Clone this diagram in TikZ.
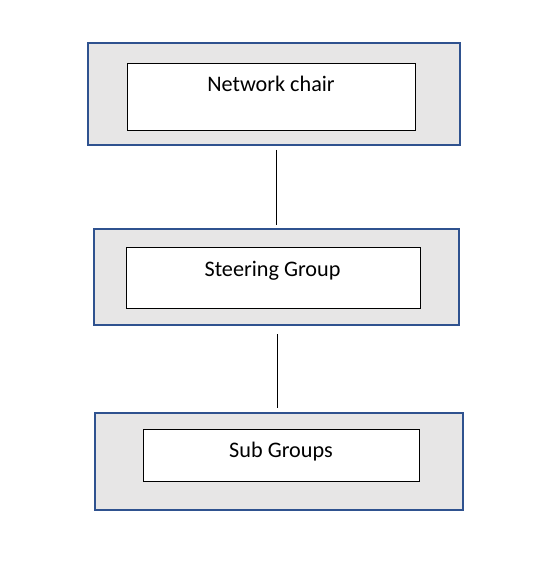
\documentclass[tikz,border=0pt]{standalone}
\usepackage{fontspec}
\setmainfont{Carlito}
\definecolor{outerblue}{HTML}{2F528F}
\definecolor{outergrey}{HTML}{E7E6E6}
\begin{document}
\begin{tikzpicture}[x=1pt,y=-1pt,
  outerbox/.style={draw=outerblue, fill=outergrey, line width=1.8pt, rectangle, inner sep=0pt},
  innerbox/.style={draw=black, fill=white, line width=1pt, rectangle, inner sep=0pt},
  lbl/.style={font=\fontsize{22.2}{25}\selectfont, anchor=base, inner sep=0pt},
  conn/.style={draw=black, line width=1pt}]
\useasboundingbox (0,0) rectangle (546,561);
% Network chair
\node[outerbox, minimum width=372pt, minimum height=102pt] (o1) at (274,94) {};
\node[innerbox, minimum width=288pt, minimum height=66.5pt] (i1) at (271.3,97) {};
\node[lbl] (t1) at (271,91.5) {Network chair};
% Steering Group
\node[outerbox, minimum width=365pt, minimum height=96pt] (o2) at (276.7,277.3) {};
\node[innerbox, minimum width=294pt, minimum height=61pt] (i2) at (273.3,278.2) {};
\node[lbl] (t2) at (272.5,276.5) {Steering Group};
% Sub Groups
\node[outerbox, minimum width=368pt, minimum height=97pt] (o3) at (279.2,461.5) {};
\node[innerbox, minimum width=276pt, minimum height=52pt] (i3) at (281.3,455.3) {};
\node[lbl] (t3) at (281,457.2) {Sub Groups};
% connectors
\coordinate (c1a) at (276.5,150);
\coordinate (c1b) at (276.5,225);
\coordinate (c2a) at (277,334);
\coordinate (c2b) at (277,408);
\draw[conn] (c1a) -- (c1b);
\draw[conn] (c2a) -- (c2b);
\end{tikzpicture}
\end{document}
